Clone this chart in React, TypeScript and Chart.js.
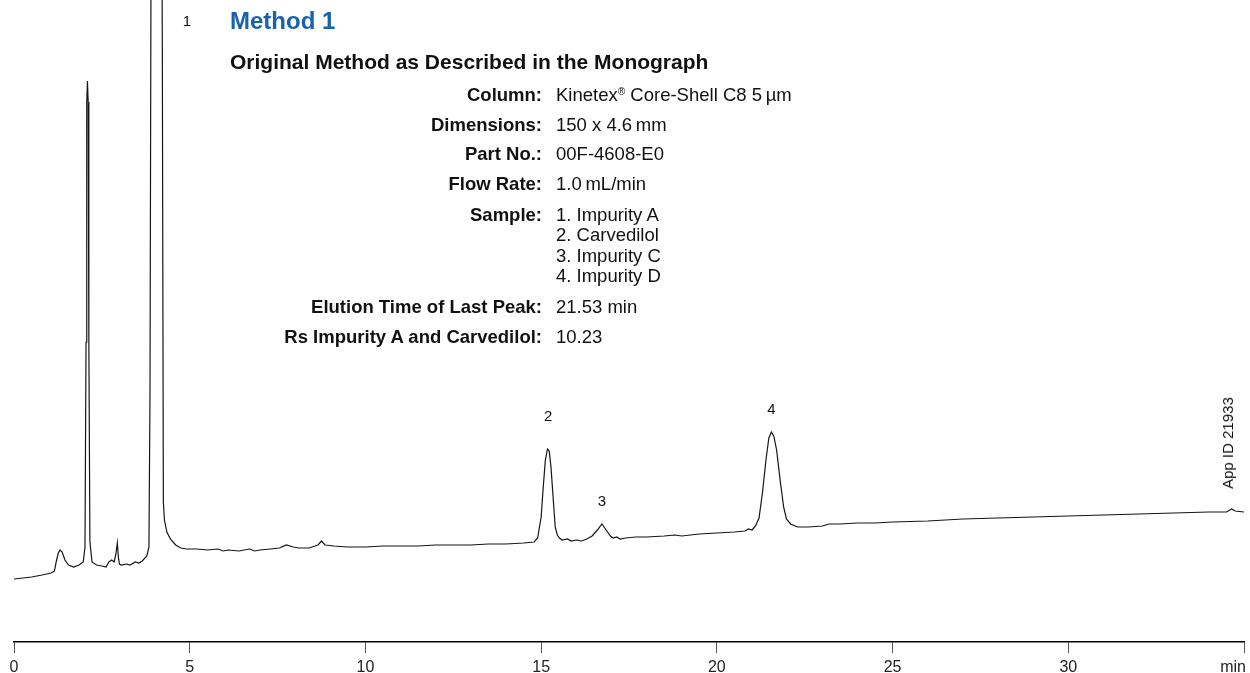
import React, { useEffect, useRef } from 'react';
import { Chart, registerables } from 'chart.js';

Chart.register(...registerables);

// Retention time (min) and detector signal (arbitrary units)
const times = [
  0, 0.25, 0.5, 0.8, 1.05, 1.15, 1.2, 1.26, 1.31, 1.37, 1.45, 1.55, 1.7, 1.85, 1.97,
  2.02, 2.05, 2.07, 2.09, 2.11, 2.13, 2.16, 2.22, 2.35, 2.5, 2.62, 2.7, 2.78, 2.85, 2.9,
  2.94, 2.97, 3.0, 3.05, 3.2, 3.3, 3.45, 3.55, 3.65, 3.78, 3.84, 3.87, 3.9, 3.95, 4.05,
  4.15, 4.22, 4.25, 4.28, 4.35, 4.45, 4.6, 4.75, 4.9, 5.2, 5.5, 5.8, 5.95, 6.1, 6.4,
  6.7, 6.85, 7.0, 7.3, 7.55, 7.75, 7.95, 8.1, 8.4, 8.65, 8.75, 8.85, 9.1, 9.5, 10.0,
  10.5, 11.0, 11.5, 12.0, 12.5, 13.0, 13.5, 14.0, 14.5, 14.8, 14.9, 15.0, 15.06, 15.12, 15.18,
  15.23, 15.28, 15.34, 15.4, 15.46, 15.52, 15.6, 15.75, 15.85, 16.0, 16.15, 16.3, 16.45, 16.6, 16.73,
  16.85, 16.97, 17.05, 17.15, 17.25, 17.4, 17.7, 18.0, 18.5, 18.8, 19.0, 19.5, 20.0, 20.5, 20.8,
  20.9, 21.0, 21.1, 21.2, 21.3, 21.4, 21.48, 21.55, 21.62, 21.7, 21.8, 21.9, 21.98, 22.1, 22.3,
  22.6, 23.0, 23.2, 23.5, 24.0, 24.5, 25.0, 26.0, 27.0, 28.0, 29.0, 30.0, 31.0, 32.0, 33.0,
  34.0, 34.5, 34.65, 34.75, 35.0,
];
const signal = [
  63, 64, 65, 67, 69, 71, 80, 89, 92, 90, 82, 77, 75, 77, 80,
  95, 300, 540, 561, 540, 300, 100, 80, 77, 76, 75, 80, 82, 80, 88,
  99, 85, 78, 77, 78, 77, 80, 79, 81, 86, 95, 250, 700, 1200, 1400,
  1300, 600, 140, 122, 110, 103, 97, 94, 93, 93, 92, 93, 91, 92, 91,
  93, 91, 92, 93, 94, 97, 95, 94, 94, 97, 101, 97, 96, 95, 95,
  96, 96, 96, 97, 97, 97, 98, 98, 99, 100, 104, 125, 155, 182, 193,
  191, 175, 145, 115, 107, 104, 102, 103, 101, 102, 101, 103, 106, 112, 118,
  112, 106, 104, 105, 103, 104, 105, 105, 106, 107, 106, 108, 109, 110, 111,
  113, 112, 116, 124, 150, 183, 204, 210, 206, 192, 162, 135, 123, 118, 115,
  115, 116, 118, 118, 119, 119, 120, 121, 123, 124, 125, 126, 127, 128, 129,
  130, 130, 133, 131, 130,
];

const xTicks = [0, 5, 10, 15, 20, 25, 30, 35];
const xTickLabels = ['0', '5', '10', '15', '20', '25', '30', 'min'];

const peakLabels = ['1', '2', '3', '4'];
const peakLabelTimes = [4.92, 15.2, 16.73, 21.55];
const peakLabelValues = [620, 225, 140, 232];

const infoLabels = [
  'Column:',
  'Dimensions:',
  'Part No.:',
  'Flow Rate:',
  'Sample:',
  'Elution Time of Last Peak:',
  'Rs Impurity A and Carvedilol:',
];
const sampleNames = ['1. Impurity A', '2. Carvedilol', '3. Impurity C', '4. Impurity D'];
const infoRowCenters = [95, 125, 154, 184.5, 215, 307, 337];

const FONT = '"Liberation Sans", Arial, Helvetica, sans-serif';

export default function App() {
  const ref = useRef<HTMLCanvasElement | null>(null);

  useEffect(() => {
    if (!ref.current) return;
    const labelPlugin = {
      id: 'peakLabels',
      afterDraw(chart: any) {
        const { ctx, scales } = chart;
        const xs = scales.x;
        const ys = scales.y;
        ctx.save();
        ctx.fillStyle = '#111';
        ctx.font = `15px ${FONT}`;
        ctx.textAlign = 'center';
        ctx.textBaseline = 'middle';
        peakLabels.forEach((lab, i) => {
          ctx.fillText(lab, xs.getPixelForValue(peakLabelTimes[i]), ys.getPixelForValue(peakLabelValues[i]));
        });
        // unit label at the end of the axis
        ctx.font = `16px ${FONT}`;
        ctx.fillStyle = '#222';
        ctx.textAlign = 'right';
        const last = xTicks[xTicks.length - 1];
        ctx.fillText(xTickLabels[xTickLabels.length - 1], xs.getPixelForValue(last) + 2, xs.top + 26);
        ctx.restore();
      },
    };

    const chart = new Chart(ref.current, {
      type: 'line',
      data: {
        datasets: [
          {
            data: times.map((t, i) => ({ x: t, y: signal[i] })),
            borderColor: '#151515',
            borderWidth: 1.2,
            pointRadius: 0,
            tension: 0,
            fill: false,
          },
        ],
      },
      options: {
        responsive: false,
        animation: false,
        devicePixelRatio: 1,
        layout: { padding: { left: 14, right: 6, top: 0, bottom: 0 } },
        plugins: { legend: { display: false }, tooltip: { enabled: false } },
        scales: {
          x: {
            type: 'linear',
            min: 0,
            max: 35,
            afterBuildTicks: (axis: any) => {
              axis.ticks = xTicks.map((v) => ({ value: v }));
            },
            afterFit: (axis: any) => {
              axis.height = 31;
            },
            ticks: {
              autoSkip: false,
              maxRotation: 0,
              padding: 5,
              color: '#222',
              font: { family: FONT, size: 16 },
              callback: (v: any) => {
                const i = xTicks.indexOf(Number(v));
                if (i === xTicks.length - 1) return '';
                return i >= 0 ? xTickLabels[i] : '';
              },
            },
            grid: {
              display: true,
              drawOnChartArea: false,
              drawTicks: true,
              tickLength: 11,
              color: '#555',
              lineWidth: 1,
            },
            border: { display: true, color: '#000', width: 1.5 },
          },
          y: {
            display: false,
            min: 0,
            max: 642,
          },
        },
      },
      plugins: [labelPlugin],
    });
    return () => chart.destroy();
  }, []);

  const rowStyle = (center: number): React.CSSProperties => ({
    position: 'absolute',
    top: center - 10.25,
    lineHeight: '20.5px',
    whiteSpace: 'nowrap',
  });

  const values: React.ReactNode[] = [
    <span>
      Kinetex<sup style={{ fontSize: '0.55em', verticalAlign: '0.6em', lineHeight: 0 }}>®</sup> Core-Shell C8 5{'\u2009'}µm
    </span>,
    <span>150 x 4.6{'\u2009'}mm</span>,
    <span>00F-4608-E0</span>,
    <span>1.0{'\u2009'}mL/min</span>,
    <div>
      {sampleNames.map((s) => (
        <div key={s}>{s}</div>
      ))}
    </div>,
    <span>21.53 min</span>,
    <span>10.23</span>,
  ];

  return (
    <div
      style={{
        position: 'fixed',
        left: 0,
        top: 0,
        width: 1250,
        height: 673,
        background: '#fff',
        overflow: 'hidden',
        fontFamily: FONT,
        color: '#111',
      }}
    >
      <canvas ref={ref} width={1250} height={673} style={{ position: 'absolute', left: 0, top: 0 }} />
      <div
        style={{
          position: 'absolute',
          left: 230,
          top: 21 - 14,
          lineHeight: '28px',
          fontSize: 24,
          fontWeight: 'bold',
          color: '#1862ad',
          whiteSpace: 'nowrap',
        }}
      >
        Method 1
      </div>
      <div
        style={{
          position: 'absolute',
          left: 230,
          top: 62 - 13,
          lineHeight: '26px',
          fontSize: 21,
          fontWeight: 'bold',
          whiteSpace: 'nowrap',
        }}
      >
        Original Method as Described in the Monograph
      </div>
      {infoLabels.map((lab, i) => (
        <React.Fragment key={lab}>
          <div
            style={{
              ...rowStyle(infoRowCenters[i]),
              right: 1250 - 542,
              textAlign: 'right',
              fontWeight: 'bold',
              fontSize: 18.5,
            }}
          >
            {lab}
          </div>
          <div style={{ ...rowStyle(infoRowCenters[i]), left: 556, fontSize: 18.5 }}>{values[i]}</div>
        </React.Fragment>
      ))}
      <div
        style={{
          position: 'absolute',
          left: 1228,
          top: 443,
          transform: 'translate(-50%, -50%) rotate(-90deg)',
          fontSize: 15,
          whiteSpace: 'nowrap',
          lineHeight: '18px',
        }}
      >
        App ID 21933
      </div>
    </div>
  );
}
